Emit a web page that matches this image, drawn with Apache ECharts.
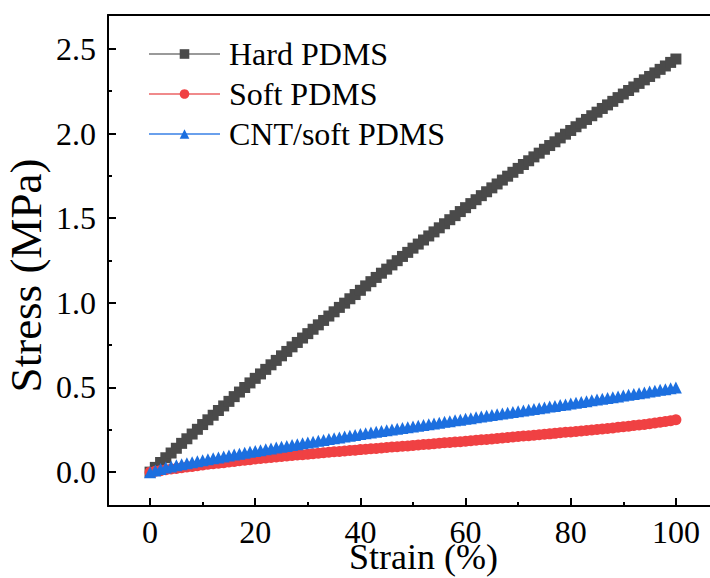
<!DOCTYPE html>
<html>
<head>
<meta charset="utf-8">
<title>Stress-strain curves</title>
<script src="https://cdn.jsdelivr.net/npm/echarts@6/dist/echarts.min.js"></script>
<style>
  html, body { margin: 0; padding: 0; background: #fff; overflow: hidden; width: 710px; height: 578px; }
  /* the frame continues past the right edge of the window */
  #chart { width: 740px; height: 578px; }
</style>
</head>
<body>
<div id="chart"></div>
<script>
// Strain (%) at which each curve was sampled
const strain = [0, 1, 2, 3, 4, 5, 6, 7, 8, 9, 10, 11, 12, 13, 14, 15, 16, 17, 18, 19, 20,
  21, 22, 23, 24, 25, 26, 27, 28, 29, 30, 31, 32, 33, 34, 35, 36, 37, 38, 39, 40,
  41, 42, 43, 44, 45, 46, 47, 48, 49, 50, 51, 52, 53, 54, 55, 56, 57, 58, 59, 60,
  61, 62, 63, 64, 65, 66, 67, 68, 69, 70, 71, 72, 73, 74, 75, 76, 77, 78, 79, 80,
  81, 82, 83, 84, 85, 86, 87, 88, 89, 90, 91, 92, 93, 94, 95, 96, 97, 98, 99, 100];

// Stress (MPa)
const stressHard = [0.000, 0.028, 0.057, 0.085, 0.113, 0.141, 0.170, 0.197, 0.225, 0.253, 0.281,
  0.309, 0.336, 0.364, 0.391, 0.418, 0.446, 0.473, 0.500, 0.527, 0.554,
  0.580, 0.607, 0.634, 0.660, 0.687, 0.713, 0.740, 0.766, 0.792, 0.818,
  0.844, 0.870, 0.896, 0.922, 0.947, 0.973, 0.998, 1.024, 1.049, 1.074,
  1.100, 1.125, 1.150, 1.175, 1.199, 1.224, 1.249, 1.274, 1.298, 1.323,
  1.347, 1.371, 1.395, 1.419, 1.443, 1.467, 1.491, 1.515, 1.539, 1.562,
  1.586, 1.609, 1.633, 1.656, 1.679, 1.702, 1.725, 1.748, 1.771, 1.794,
  1.817, 1.839, 1.862, 1.884, 1.907, 1.929, 1.951, 1.974, 1.996, 2.018,
  2.040, 2.061, 2.083, 2.105, 2.126, 2.148, 2.169, 2.190, 2.212, 2.233,
  2.254, 2.275, 2.296, 2.317, 2.337, 2.358, 2.379, 2.399, 2.420, 2.440];
const stressSoft = [0.000, 0.005, 0.009, 0.014, 0.018, 0.022, 0.026, 0.030, 0.034, 0.038, 0.042,
  0.046, 0.049, 0.053, 0.056, 0.060, 0.063, 0.067, 0.070, 0.073, 0.077,
  0.080, 0.083, 0.086, 0.089, 0.092, 0.095, 0.098, 0.101, 0.103, 0.106,
  0.109, 0.112, 0.114, 0.117, 0.120, 0.122, 0.125, 0.128, 0.130, 0.133,
  0.135, 0.138, 0.140, 0.143, 0.145, 0.148, 0.150, 0.153, 0.155, 0.158,
  0.160, 0.163, 0.165, 0.168, 0.170, 0.173, 0.175, 0.178, 0.180, 0.183,
  0.186, 0.188, 0.191, 0.193, 0.196, 0.199, 0.202, 0.204, 0.207, 0.210,
  0.213, 0.215, 0.218, 0.221, 0.224, 0.226, 0.229, 0.232, 0.235, 0.237,
  0.240, 0.243, 0.246, 0.249, 0.252, 0.255, 0.258, 0.261, 0.265, 0.268,
  0.271, 0.275, 0.278, 0.282, 0.286, 0.290, 0.294, 0.299, 0.304, 0.310];
const stressCnt = [0.000, 0.010, 0.019, 0.027, 0.034, 0.041, 0.047, 0.053, 0.059, 0.065, 0.070,
  0.076, 0.082, 0.087, 0.093, 0.098, 0.104, 0.109, 0.115, 0.120, 0.125,
  0.130, 0.135, 0.140, 0.145, 0.150, 0.155, 0.160, 0.165, 0.170, 0.175,
  0.180, 0.185, 0.190, 0.195, 0.200, 0.205, 0.210, 0.215, 0.220, 0.225,
  0.229, 0.234, 0.238, 0.243, 0.247, 0.252, 0.256, 0.261, 0.265, 0.270,
  0.274, 0.279, 0.283, 0.288, 0.292, 0.297, 0.301, 0.306, 0.310, 0.315,
  0.319, 0.324, 0.328, 0.333, 0.337, 0.342, 0.346, 0.351, 0.355, 0.360,
  0.364, 0.369, 0.373, 0.378, 0.382, 0.387, 0.391, 0.396, 0.400, 0.405,
  0.410, 0.414, 0.419, 0.424, 0.429, 0.433, 0.438, 0.443, 0.447, 0.452,
  0.457, 0.462, 0.466, 0.471, 0.476, 0.481, 0.486, 0.490, 0.495, 0.500];

// Axis ticks
const xMajorTicks = [0, 20, 40, 60, 80, 100];
const xMinorTicks = [10, 30, 50, 70, 90];
const yMajorTicks = [0, 0.5, 1.0, 1.5, 2.0, 2.5];
const yMinorTicks = [0.25, 0.75, 1.25, 1.75, 2.25];

const seriesNames = ['Hard PDMS', 'Soft PDMS', 'CNT/soft PDMS'];

const SERIF = '"Times New Roman", "Liberation Serif", "DejaVu Serif", serif';
const X_MIN = -8, X_MAX = 112, Y_MIN = -0.2, Y_MAX = 2.7;

function zip(xs, ys) { return xs.map((x, i) => [x, ys[i]]); }

function axisBase(min, max, gridIndex, showLine) {
  return {
    type: 'value', min: min, max: max, gridIndex: gridIndex,
    splitLine: { show: false },
    axisLine: { show: showLine, onZero: false, lineStyle: { color: '#000', width: 2 } }
  };
}

const plotRect = {
  left: 108, top: 15, right: 1, bottom: 72,
  containLabel: false, outerBoundsMode: 'none', show: false
};

const chart = echarts.init(document.getElementById('chart'), null, { renderer: 'svg' });

chart.setOption({
  animation: false,
  backgroundColor: '#fff',
  // grid 0 holds the data and major ticks, grid 1 (same rectangle) only the minor ticks
  grid: [Object.assign({}, plotRect), Object.assign({}, plotRect)],
  legend: {
    orient: 'vertical',
    left: 148, top: 38, padding: 0,
    itemWidth: 71, itemHeight: 12, itemGap: 8,
    data: seriesNames,
    textStyle: { fontFamily: SERIF, fontSize: 32, color: '#000', lineHeight: 32, padding: [0, 0, 0, 4] }
  },
  xAxis: [
    Object.assign(axisBase(X_MIN, X_MAX, 0, true), {
      position: 'bottom',
      name: 'Strain (%)', nameLocation: 'middle', nameGap: 37, nameMoveOverlap: false,
      nameTextStyle: { fontFamily: SERIF, fontSize: 36, color: '#000', lineHeight: 28 },
      axisTick: { show: true, inside: true, length: 8, customValues: xMajorTicks, lineStyle: { color: '#000', width: 2 } },
      axisLabel: { show: true, customValues: xMajorTicks, margin: 15, lineHeight: 22, fontFamily: SERIF, fontSize: 32, color: '#000' }
    }),
    // top edge of the frame
    Object.assign(axisBase(X_MIN, X_MAX, 0, true), {
      position: 'top',
      axisTick: { show: false },
      axisLabel: { show: false }
    }),
    Object.assign(axisBase(X_MIN, X_MAX, 1, false), {
      position: 'bottom',
      axisTick: { show: true, inside: true, length: 4, customValues: xMinorTicks, lineStyle: { color: '#000', width: 2 } },
      axisLabel: { show: false }
    })
  ],
  yAxis: [
    Object.assign(axisBase(Y_MIN, Y_MAX, 0, true), {
      position: 'left',
      name: 'Stress (MPa)', nameLocation: 'middle', nameGap: 60, nameMoveOverlap: false,
      nameTextStyle: { fontFamily: SERIF, fontSize: 45, lineHeight: 45, color: '#000', padding: [0, 30, 0, 0] },
      axisTick: { show: true, inside: true, length: 8, customValues: yMajorTicks, lineStyle: { color: '#000', width: 2 } },
      axisLabel: {
        show: true, customValues: yMajorTicks, margin: 12, fontFamily: SERIF, fontSize: 32, color: '#000',
        formatter: v => v.toFixed(1)
      }
    }),
    Object.assign(axisBase(Y_MIN, Y_MAX, 1, false), {
      position: 'left',
      axisTick: { show: true, inside: true, length: 4, customValues: yMinorTicks, lineStyle: { color: '#000', width: 2 } },
      axisLabel: { show: false }
    })
  ],
  series: [
    {
      name: seriesNames[0], type: 'line', data: zip(strain, stressHard),
      xAxisIndex: 0, yAxisIndex: 0,
      symbol: 'rect', symbolSize: 11, showSymbol: true, showAllSymbol: true,
      itemStyle: { color: '#4a4a4a' },
      lineStyle: { color: '#9a9a9a', width: 1.5 }
    },
    {
      name: seriesNames[1], type: 'line', data: zip(strain, stressSoft),
      xAxisIndex: 0, yAxisIndex: 0,
      symbol: 'circle', symbolSize: 11, showSymbol: true, showAllSymbol: true,
      itemStyle: { color: '#f04143' },
      lineStyle: { color: '#f08a8b', width: 1.5 }
    },
    {
      name: seriesNames[2], type: 'line', data: zip(strain, stressCnt),
      xAxisIndex: 0, yAxisIndex: 0,
      symbol: 'triangle', symbolSize: 12, showSymbol: true, showAllSymbol: true,
      itemStyle: { color: '#1c6fdf' },
      lineStyle: { color: '#6aa0ec', width: 1.5 }
    }
  ]
});
</script>
</body>
</html>
